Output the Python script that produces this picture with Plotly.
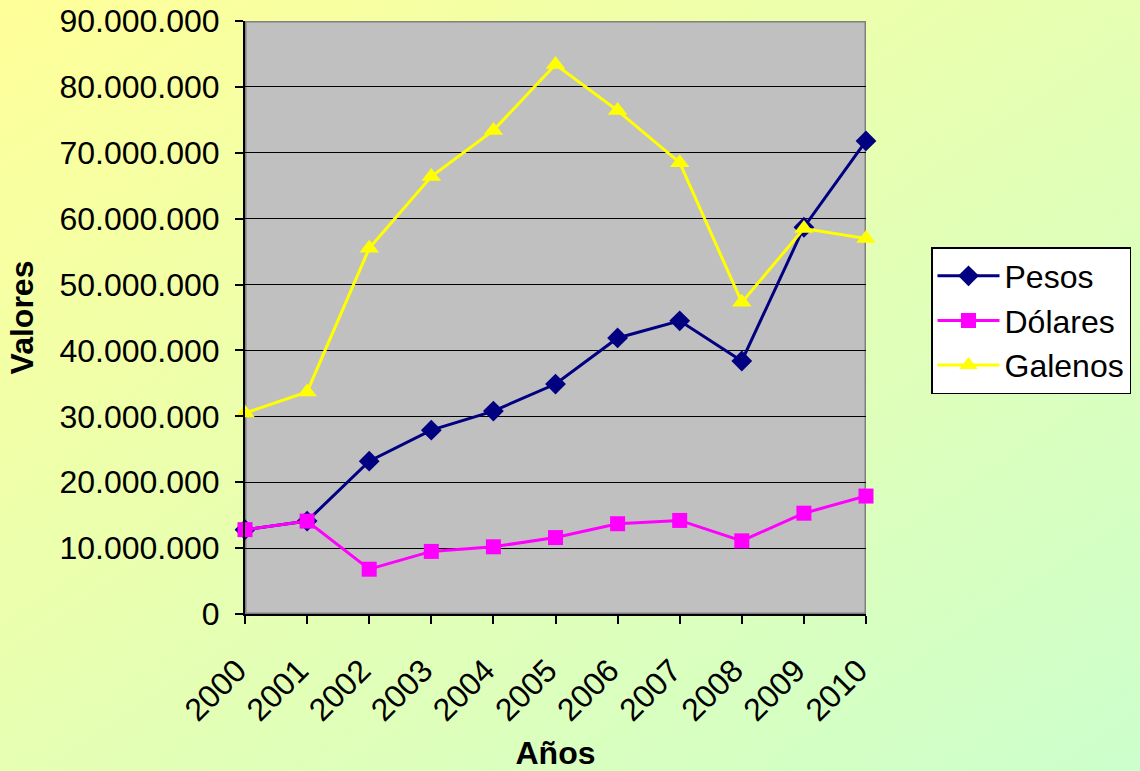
import base64
import plotly.graph_objects as go

# ---- data ----
years = ["2000", "2001", "2002", "2003", "2004", "2005", "2006", "2007", "2008", "2009", "2010"]
pesos = [12.8e6, 14.1e6, 23.2e6, 27.9e6, 30.8e6, 34.9e6, 41.9e6, 44.5e6, 38.4e6, 58.7e6, 71.8e6]
dolares = [12.8e6, 14.1e6, 6.8e6, 9.5e6, 10.2e6, 11.6e6, 13.7e6, 14.2e6, 11.1e6, 15.3e6, 17.9e6]
galenos = [30.5e6, 33.7e6, 55.5e6, 66.4e6, 73.4e6, 83.4e6, 76.4e6, 68.5e6, 47.3e6, 58.5e6, 57.0e6]
y_ticks = [0, 10e6, 20e6, 30e6, 40e6, 50e6, 60e6, 70e6, 80e6, 90e6]

W, H = 1140, 771
FONT = "Liberation Sans, Arial, sans-serif"
FS = 32

# diagonal background gradient as an inline SVG image
svg = (
    f'<svg xmlns="http://www.w3.org/2000/svg" width="{W}" height="{H}" viewBox="0 0 {W} {H}" preserveAspectRatio="none">'
    '<defs><linearGradient id="g" x1="0" y1="0" x2="1" y2="1">'
    '<stop offset="0" stop-color="#FFFF99"/><stop offset="1" stop-color="#CCFFCC"/>'
    '</linearGradient></defs>'
    f'<rect x="0" y="0" width="{W}" height="{H}" fill="url(#g)"/></svg>'
)
bg_src = "data:image/svg+xml;base64," + base64.b64encode(svg.encode()).decode()

fig = go.Figure()
fig.add_trace(go.Scatter(
    x=years, y=pesos, name="Pesos", mode="lines+markers",
    line=dict(color="#000080", width=3),
    marker=dict(symbol="diamond", size=16, color="#000080"),
    cliponaxis=False,
))
fig.add_trace(go.Scatter(
    x=years, y=dolares, name="Dólares", mode="lines+markers",
    line=dict(color="#FF00FF", width=3),
    marker=dict(symbol="square", size=15, color="#FF00FF"),
    cliponaxis=False,
))
fig.add_trace(go.Scatter(
    x=years, y=galenos, name="Galenos", mode="lines+markers",
    line=dict(color="#FFFF00", width=3),
    marker=dict(symbol="triangle-up", size=17, color="#FFFF00"),
    cliponaxis=False,
))

# gray plot area with gray border (drawn below gridlines)
fig.add_shape(type="rect", xref="x", yref="y", x0=0, x1=10, y0=0, y1=90e6,
              line=dict(color="#808080", width=3), fillcolor="#C0C0C0", layer="below")

fig.update_layout(
    width=W, height=H,
    margin=dict(l=245, r=274, t=21, b=157, autoexpand=False),
    paper_bgcolor="#E6FFB3",
    plot_bgcolor="#C0C0C0",
    separators=",.",
    font=dict(family=FONT, size=FS, color="black"),
    images=[dict(source=bg_src, xref="paper", yref="paper", x=-245/621, y=1+21/593,
                 sizex=W/621, sizey=H/593, xanchor="left", yanchor="top",
                 sizing="stretch", layer="below")],
    showlegend=True,
    legend=dict(
        x=(931-245)/621, y=(614-247)/593, xanchor="left", yanchor="top",
        bgcolor="white", bordercolor="black", borderwidth=1.5,
        font=dict(family=FONT, size=FS, color="black"),
        itemwidth=62, tracegroupgap=0,
    ),
    xaxis=dict(
        type="category", range=[0, 10], automargin=False,
        showgrid=False, zeroline=False,
        showline=True, linecolor="black", linewidth=2,
        ticks="outside", ticklen=8, tickwidth=1.5, tickcolor="black",
        tickangle=-45, ticklabelstandoff=15, ticklabelshift=-8,
        title=dict(text="<b>Años</b>", font=dict(family=FONT, size=FS), standoff=20),
    ),
    yaxis=dict(
        range=[0, 90e6], tickvals=y_ticks, tickformat=",d", automargin=False,
        showgrid=True, gridcolor="black", gridwidth=1,
        zeroline=False,
        showline=True, linecolor="black", linewidth=2,
        ticks="outside", ticklen=8, tickwidth=1.5, tickcolor="black",
        ticklabelstandoff=9,
        title=dict(text="<b>Valores</b>", font=dict(family=FONT, size=FS), standoff=16),
    ),
)

fig.write_html("out.html", config={"displayModeBar": False},
               post_script="document.body.style.margin='0';document.body.style.overflow='hidden';")
